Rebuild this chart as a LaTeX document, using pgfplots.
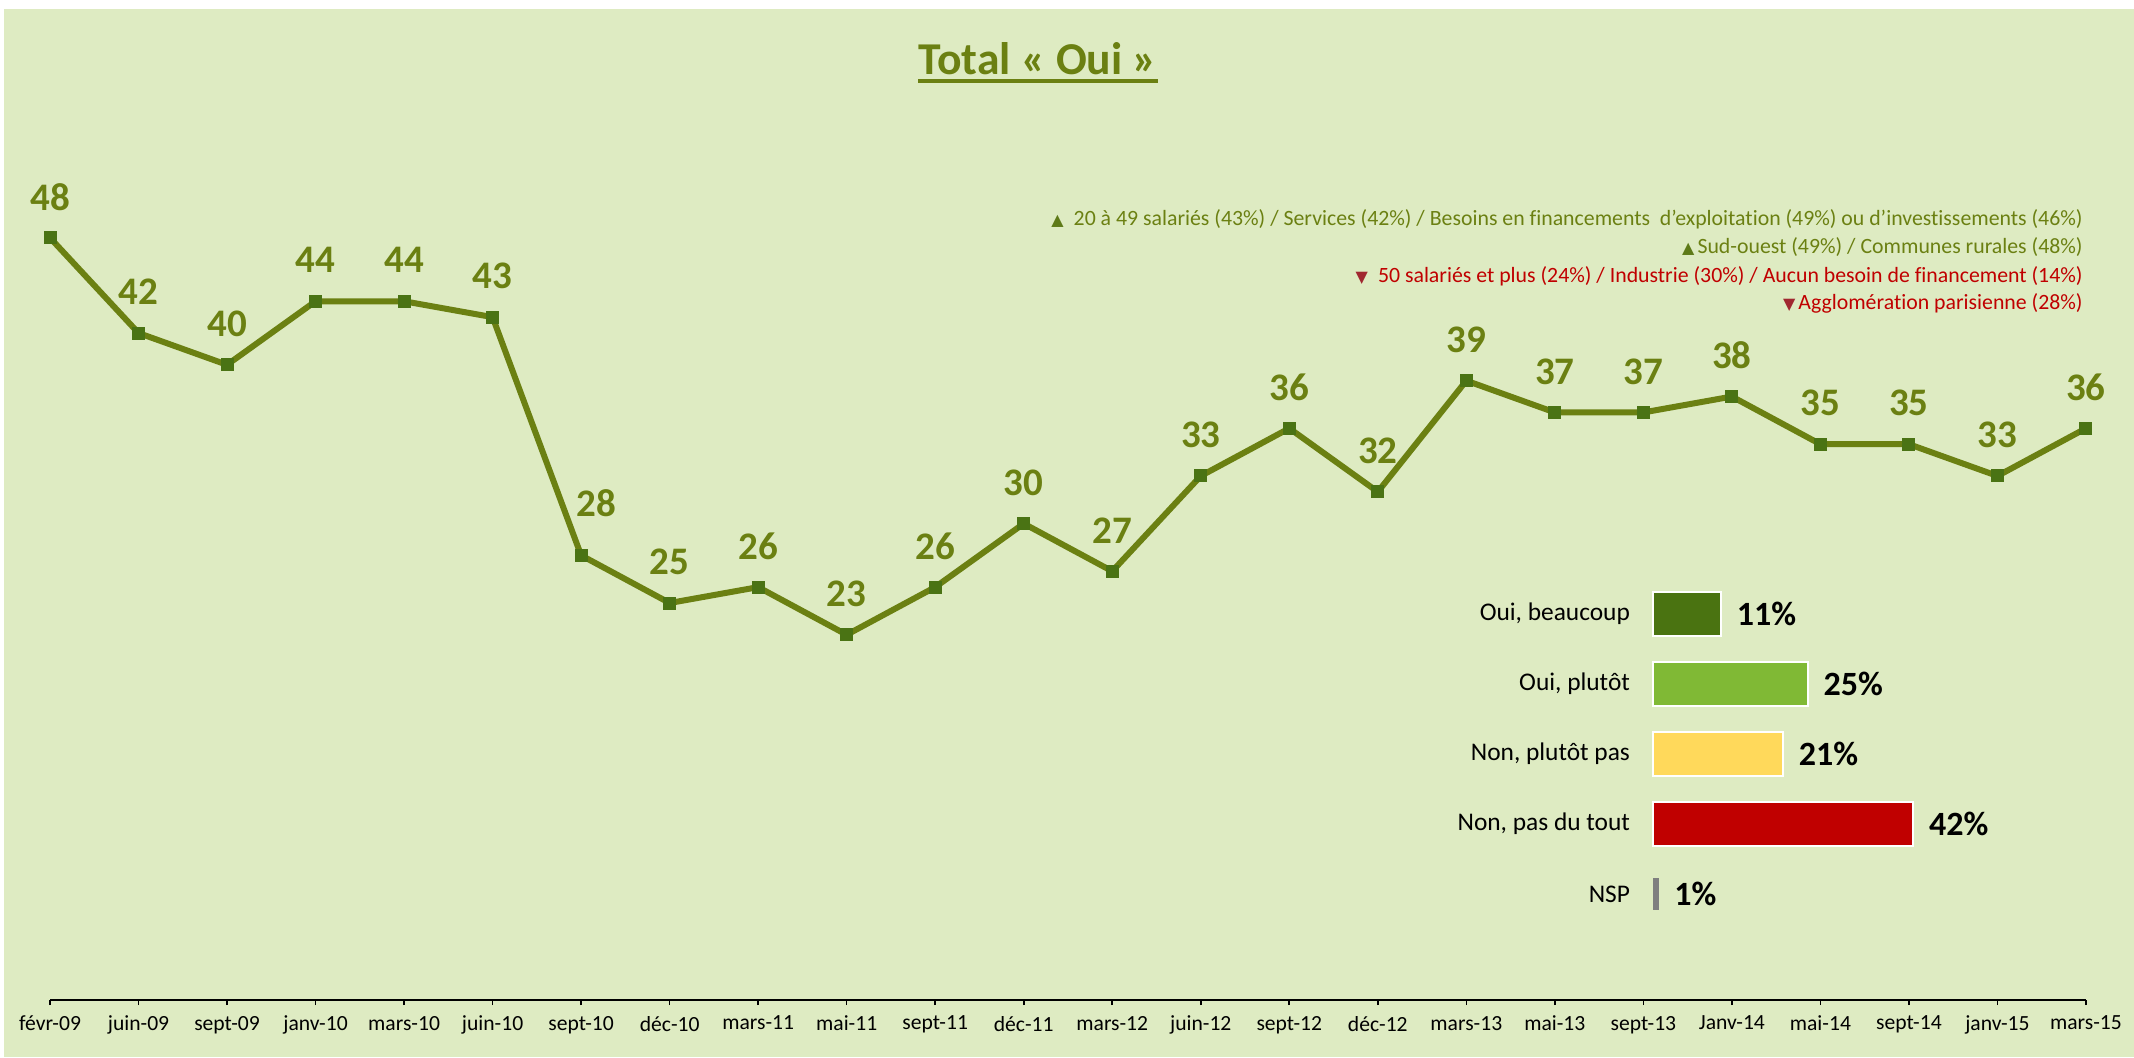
\documentclass[border=0pt]{standalone}
\usepackage{pgfplots}
\usepackage{pgfplotstable}
\pgfplotsset{compat=1.18}
\usepackage{fontspec}
\setmainfont{Carlito}[Ligatures={NoCommon}]
\newfontfamily\sym{DejaVu Sans}
\definecolor{bg}{RGB}{222,235,194}
\definecolor{olive}{RGB}{107,128,18}
\definecolor{markc}{RGB}{74,115,20}
\definecolor{gtri}{RGB}{94,122,24}
\definecolor{rtxt}{RGB}{192,0,0}
\definecolor{rtri}{RGB}{160,40,48}
\definecolor{cbeau}{RGB}{74,115,17}
\definecolor{cplut}{RGB}{128,185,53}
\definecolor{cpas}{RGB}{255,217,91}
\definecolor{cpdt}{RGB}{192,0,0}
\definecolor{cnsp}{RGB}{127,127,127}

\pgfplotstableread{
x y
0 48
1 42
2 40
3 44
4 44
5 43
6 28
7 25
8 26
9 23
10 26
11 30
12 27
13 33
14 36
15 32
16 39
17 37
18 37
19 38
20 35
21 35
22 33
23 36
}\totaloui

\begin{document}
\begin{tikzpicture}
\useasboundingbox (-25pt,-28.5pt) rectangle (1042pt,500pt);
\fill[white] (-25pt,-28.5pt) rectangle (1042pt,500pt);
\fill[bg] (-23pt,-28.5pt) rectangle (1042pt,495.5pt);

% Title
\node[inner sep=0pt, anchor=base, text=olive, font=\fontsize{22.8}{22.8}\selectfont\bfseries] (title) at (494pt,462.5pt) {Total « Oui »};
\draw[olive, line width=2pt] ([yshift=-3.2pt]title.base west) -- ([yshift=-3.2pt]title.base east);

% Annotations
\node[inner sep=0pt, anchor=base east, font=\fontsize{10.9}{12}\selectfont, text=olive] at (1016.5pt,387pt)
  {{\sym\fontsize{8}{8}\selectfont\color{gtri}▲}\hspace{5pt}20 à 49 salariés (43\%) / Services (42\%) / Besoins en financements \ d’exploitation (49\%) ou d’investissements (46\%)};
\node[inner sep=0pt, anchor=base east, font=\fontsize{10.9}{12}\selectfont, text=olive] at (1016.5pt,373.5pt)
  {{\sym\fontsize{8}{8}\selectfont\color{gtri}▲}\hspace{1.5pt}Sud-ouest (49\%) / Communes rurales (48\%)};
\node[inner sep=0pt, anchor=base east, font=\fontsize{10.9}{12}\selectfont, text=rtxt] at (1016.5pt,359pt)
  {{\sym\fontsize{8}{8}\selectfont\color{rtri}▼}\hspace{5pt}50 salariés et plus (24\%) / Industrie (30\%) / Aucun besoin de financement (14\%)};
\node[inner sep=0pt, anchor=base east, font=\fontsize{10.9}{12}\selectfont, text=rtxt] at (1016.5pt,345pt)
  {{\sym\fontsize{8}{8}\selectfont\color{rtri}▼}\hspace{1.5pt}Agglomération parisienne (28\%)};

% Main line chart
\begin{axis}[
  at={(0pt,0pt)}, anchor=origin,
  x=44.26pt, y=7.94pt,
  xmin=0, xmax=23, ymin=0, ymax=60,
  axis x line=bottom, axis y line=none,
  axis line style={black, line width=1pt, -},
  xtick={0,...,23},
  xticklabels={févr-09,juin-09,sept-09,janv-10,mars-10,juin-10,sept-10,déc-10,mars-11,mai-11,sept-11,déc-11,mars-12,juin-12,sept-12,déc-12,mars-13,mai-13,sept-13,Janv-14,mai-14,sept-14,janv-15,mars-15},
  xticklabel style={font=\fontsize{10.8}{10.8}\selectfont, text=black, yshift=-2pt},
  tick align=outside, major tick length=2.5pt,
  tick style={black, line width=0.8pt},
  ytick=\empty,
  clip=false,
  /pgf/number format/assume math mode=true,
  nodes near coords={\pgfmathprintnumber{\pgfplotspointmeta}},
  every node near coord/.append style={anchor=center, yshift=20.5pt, text=olive, font=\fontsize{19.5}{19.5}\selectfont\bfseries},
  coordinate style/.condition={x==6}{xshift=7.5pt, yshift=5.5pt},
]
\addplot[olive, line width=3pt, mark=square*, mark size=3pt, mark options={fill=markc, draw=markc, line width=0pt}] table[x=x, y=y] {\totaloui};
\end{axis}

% Bar chart
\begin{axis}[
  at={(801.5pt,53pt)}, anchor=origin,
  x=3.1pt, y=35pt,
  xmin=0, xmax=50, ymin=-0.5, ymax=4.5,
  xbar, bar width=22pt, bar shift=0pt,
  axis line style={draw=none},
  xtick=\empty,
  ytick={0,1,2,3,4},
  yticklabels={NSP,{Non, pas du tout},{Non, plutôt pas},{Oui, plutôt},{Oui, beaucoup}},
  yticklabel style={font=\fontsize{12.7}{12.7}\selectfont, text=black, xshift=-8pt},
  major tick length=0pt, tick style={draw=none},
  clip=false,
  point meta=x,
  /pgf/number format/assume math mode=true,
  nodes near coords={\pgfmathprintnumber{\pgfplotspointmeta}\%},
  every node near coord/.append style={anchor=west, xshift=4pt, text=black, font=\fontsize{17}{17}\selectfont\bfseries},
]
\addplot[fill=cbeau, draw=white, line width=1pt] coordinates {(11,4)};
\addplot[fill=cplut, draw=white, line width=1pt] coordinates {(25,3)};
\addplot[fill=cpas, draw=white, line width=1pt] coordinates {(21,2)};
\addplot[fill=cpdt, draw=white, line width=1pt] coordinates {(42,1)};
\addplot[fill=cnsp, draw=none, bar width=16pt] coordinates {(1,0)};
\end{axis}
\end{tikzpicture}
\end{document}
